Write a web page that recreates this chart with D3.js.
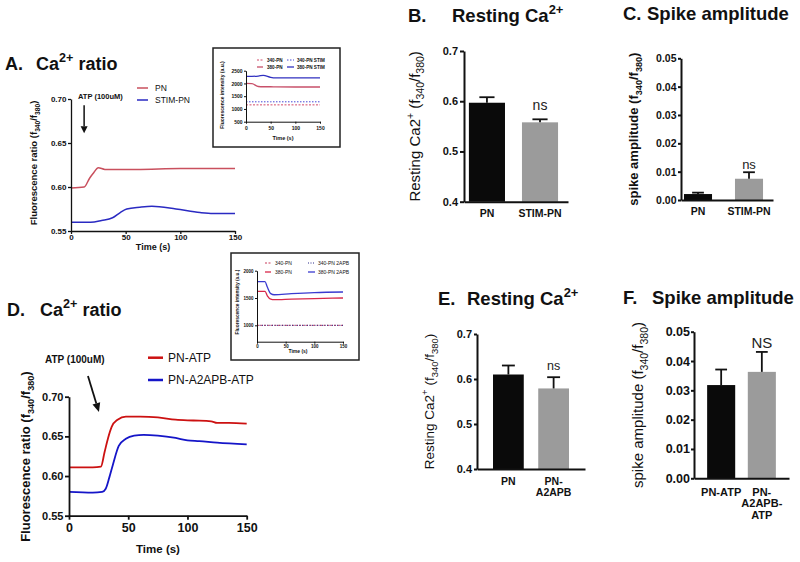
<!DOCTYPE html>
<html>
<head>
<meta charset="utf-8">
<script src="https://cdn.jsdelivr.net/npm/d3@7"></script>
<style>
  body { margin: 0; background: #fff; }
  svg { display: block; font-family: "Liberation Sans", Arial, sans-serif; }
</style>
</head>
<body>
<svg id="fig" width="800" height="562"></svg>
<script>
// ---------- data ----------
const timeTicks = [0, 50, 100, 150];

// A: Ca2+ ratio, PN vs STIM-PN
const timeA_PN = [0, 12, 17, 20, 25, 31, 60, 100, 150];
const ratioA_PN = [0.599, 0.600, 0.610, 0.615, 0.622, 0.620, 0.620, 0.621, 0.621];
const timeA_STIM = [0, 18, 28, 38, 45, 51, 63, 74, 96, 118, 130, 150];
const ratioA_STIM = [0.560, 0.560, 0.562, 0.565, 0.571, 0.575, 0.577, 0.578, 0.575, 0.571, 0.570, 0.570];

// A inset: raw intensities
const timeInsetA = [0, 12, 25, 35, 50, 60, 100, 150];
const insA_380STIM = [2280, 2280, 2290, 2320, 2240, 2220, 2220, 2220];
const insA_380PN = [2000, 1990, 1880, 1870, 1870, 1865, 1860, 1860];
const insA_340STIM = [1280, 1280, 1280, 1280, 1280, 1280, 1280, 1280];
const insA_340PN = [1160, 1160, 1160, 1160, 1160, 1160, 1160, 1160];

// D: Ca2+ ratio, PN-ATP vs PN-A2APB-ATP
const timeD_PN = [0, 20, 27, 30, 33, 36, 41, 48, 60, 75, 90, 105, 120, 125, 135, 150];
const ratioD_PN = [0.611, 0.611, 0.612, 0.630, 0.648, 0.662, 0.671, 0.675, 0.675, 0.674, 0.671, 0.670, 0.669, 0.667, 0.667, 0.666];
const timeD_2APB = [0, 20, 28, 31, 34, 37, 42, 48, 55, 63, 75, 90, 100, 110, 125, 150];
const ratioD_2APB = [0.580, 0.579, 0.580, 0.584, 0.598, 0.614, 0.638, 0.647, 0.651, 0.652, 0.651, 0.648, 0.645, 0.644, 0.642, 0.640];

// D inset
const timeInsetD = [0, 14, 18, 24, 30, 60, 100, 150];
const insD_380APB = [1800, 1800, 1700, 1580, 1560, 1580, 1600, 1610];
const insD_380PN = [1620, 1620, 1540, 1480, 1470, 1480, 1490, 1500];
const insD_340APB = [1000, 1000, 1000, 1000, 1000, 1000, 1000, 1000];
const insD_340PN = [1000, 1000, 1000, 1000, 1000, 1000, 1000, 1000];

// B, C, E, F: bar charts (mean + SEM)
const catsB = ['PN', 'STIM-PN'];
const restB = [0.597, 0.558];
const semB = [0.011, 0.006];
const labelsB = [['PN'], ['STIM-PN']];

const catsC = ['PN', 'STIM-PN'];
const spikeC = [0.0021, 0.0075];
const semC = [0.0005, 0.0023];
const labelsC = [['PN'], ['STIM-PN']];

const catsE = ['PN', 'PN-A2APB'];
const restE = [0.610, 0.579];
const semE = [0.020, 0.025];
const labelsE = [['PN'], ['PN-', 'A2APB']];

const catsF = ['PN-ATP', 'PN-A2APB-ATP'];
const spikeF = [0.0318, 0.0363];
const semF = [0.0053, 0.0068];
const labelsF = [['PN-ATP'], ['PN-', 'A2APB-', 'ATP']];

// ---------- drawing ----------
const svg = d3.select('#fig');
svg.append('rect').attr('width', 800).attr('height', 562).attr('fill', '#fff');
const ink = '#111';
const barColors = ['#0a0a0a', '#9b9b9b'];

// text with sub/superscript pieces
function rich(g, x, y, parts, o) {
  const t = g.append('text').attr('x', x).attr('y', y)
    .attr('font-size', o.size).attr('font-weight', o.weight || 'bold')
    .attr('text-anchor', o.anchor || 'start').attr('fill', ink);
  if (o.rotate) t.attr('transform', `rotate(-90,${x},${y})`);
  let cur = 0;
  parts.forEach(p => {
    const s = typeof p === 'string' ? p : p[0];
    const k = typeof p === 'string' ? '' : p[1];
    const off = k === 'sub' ? 0.3 * o.size : k === 'sup' ? -0.42 * o.size : 0;
    const ts = t.append('tspan').text(s).attr('dy', off - cur);
    if (k) ts.attr('font-size', o.size * 0.7);
    cur = off;
  });
  return t;
}

function styleAxis(a, size, stroke) {
  a.attr('font-family', null).attr('font-size', size).attr('font-weight', 'bold');
  a.select('.domain').attr('stroke', ink).attr('stroke-width', stroke);
  a.selectAll('.tick line').attr('stroke', ink).attr('stroke-width', stroke);
  a.selectAll('.tick text').attr('fill', ink);
}

function linePanel(o) {
  const g = svg.append('g');
  const x = d3.scaleLinear().domain([0, 150]).range([o.left, o.right]);
  const y = d3.scaleLinear().domain(o.yDomain).range([o.bottom, o.top]);
  const line = d3.line().x(d => x(d[0])).y(d => y(d[1])).curve(d3.curveMonotoneX);
  o.series.forEach(s => {
    g.append('path').datum(d3.zip(s.t, s.v)).attr('d', line)
      .attr('fill', 'none').attr('stroke', s.color).attr('stroke-width', s.width)
      .attr('stroke-dasharray', s.dash || null);
  });
  g.append('g').attr('transform', `translate(0,${o.bottom})`)
    .call(d3.axisBottom(x).tickValues(timeTicks).tickSize(o.tick).tickPadding(o.xPad).tickSizeOuter(0))
    .call(a => styleAxis(a, o.xFont, o.stroke));
  g.append('g').attr('transform', `translate(${o.left},0)`)
    .call(d3.axisLeft(y).tickValues(o.yTicks).tickFormat(d3.format(o.fmt))
      .tickSize(o.tick).tickPadding(o.yPad).tickSizeOuter(0))
    .call(a => styleAxis(a, o.yFont, o.stroke));
  return { g, x, y };
}

function arrow(g, x1, y1, x2, y2, len, half, w) {
  const a = Math.atan2(y2 - y1, x2 - x1);
  const bx = x2 - len * Math.cos(a), by = y2 - len * Math.sin(a);
  g.append('line').attr('x1', x1).attr('y1', y1).attr('x2', bx).attr('y2', by)
    .attr('stroke', ink).attr('stroke-width', w);
  const px = -Math.sin(a) * half, py = Math.cos(a) * half;
  g.append('path').attr('d', `M${x2},${y2}L${bx + px},${by + py}L${bx - px},${by - py}Z`).attr('fill', ink);
}

function legendRow(g, x1, x2, y, color, dash, width, text, tx, size, weight) {
  g.append('line').attr('x1', x1).attr('x2', x2).attr('y1', y).attr('y2', y)
    .attr('stroke', color).attr('stroke-width', width).attr('stroke-dasharray', dash || null);
  g.append('text').attr('x', tx).attr('y', y + size * 0.36).attr('font-size', size)
    .attr('font-weight', weight).attr('fill', ink).text(text);
}

function barPanel(o) {
  const g = svg.append('g');
  const x = d3.scaleBand().domain(o.cats).range([o.left, o.right])
    .paddingInner(o.pi).paddingOuter(o.po).align(o.align);
  const y = d3.scaleLinear().domain(o.yDomain).range([o.bottom, o.top]);
  const bw = x.bandwidth();
  g.selectAll('rect.bar').data(o.cats).join('rect').attr('class', 'bar')
    .attr('x', c => x(c)).attr('width', bw)
    .attr('y', (c, i) => y(o.means[i])).attr('height', (c, i) => o.bottom - y(o.means[i]))
    .attr('fill', (c, i) => barColors[i]);
  const cap = bw * 0.42;
  o.cats.forEach((c, i) => {
    const cx = x(c) + bw / 2;
    const top = y(o.means[i] + o.sems[i]);
    g.append('line').attr('x1', cx).attr('x2', cx).attr('y1', y(o.means[i])).attr('y2', top)
      .attr('stroke', ink).attr('stroke-width', 1.8);
    g.append('line').attr('x1', cx - cap / 2).attr('x2', cx + cap / 2).attr('y1', top).attr('y2', top)
      .attr('stroke', ink).attr('stroke-width', 1.8);
    o.lines[i].forEach((s, j) => {
      g.append('text').attr('x', cx).attr('y', o.labelY + j * o.lineH)
        .attr('text-anchor', 'middle').attr('font-size', o.labelFont)
        .attr('font-weight', 'bold').attr('fill', ink).text(s);
    });
  });
  g.append('g').attr('transform', `translate(0,${o.bottom})`)
    .call(d3.axisBottom(x).tickSize(0).tickSizeOuter(0).tickFormat(''))
    .call(a => styleAxis(a, 10, o.stroke));
  g.append('g').attr('transform', `translate(${o.left},0)`)
    .call(d3.axisLeft(y).tickValues(o.yTicks).tickFormat(d3.format(o.fmt))
      .tickSize(o.tick).tickPadding(o.yPad).tickSizeOuter(0))
    .call(a => styleAxis(a, o.yFont, o.stroke));
  const c1 = o.cats[1];
  g.append('text').attr('x', x(c1) + bw / 2)
    .attr('y', y(o.means[1] + o.sems[1]) - o.sigGap)
    .attr('text-anchor', 'middle').attr('font-size', o.sigFont).attr('fill', '#222').text(o.sig);
  rich(g, o.yLabelX, (o.top + o.bottom) / 2, o.yLabel,
    { size: o.yLabelSize, weight: o.yLabelWeight, anchor: 'middle', rotate: true });
  return g;
}

const ratioLabel = ['Fluorescence ratio (f', ['340', 'sub'], '/f', ['380', 'sub'], ')'];
const restLabel = ['Resting Ca2', ['+', 'sup'], ' (f', ['340', 'sub'], '/f', ['380', 'sub'], ')'];
const spikeLabel = ['spike amplitude (f', ['340', 'sub'], '/f', ['380', 'sub'], ')'];

function title(letter, lx, rest, rx, y, size) {
  svg.append('text').attr('x', lx).attr('y', y).attr('font-size', size)
    .attr('font-weight', 'bold').attr('fill', ink).text(letter);
  rich(svg, rx, y, rest, { size: size });
}

// ---- Panel A ----
title('A.', 5, ['Ca', ['2+', 'sup'], ' ratio'], 36, 70, 18);
const pA = linePanel({
  left: 71, right: 235, top: 99, bottom: 231, yDomain: [0.55, 0.70],
  yTicks: [0.55, 0.60, 0.65, 0.70], fmt: '.2f', tick: 3, xPad: 0.5, yPad: 1.5,
  xFont: 8, yFont: 8, stroke: 1.3,
  series: [
    { t: timeA_PN, v: ratioA_PN, color: '#c9505e', width: 1.5 },
    { t: timeA_STIM, v: ratioA_STIM, color: '#2a2ac2', width: 1.5 }
  ]
});
rich(svg, 37, 163, ratioLabel, { size: 9.5, anchor: 'middle', rotate: true });
svg.append('text').attr('x', 153).attr('y', 250).attr('text-anchor', 'middle')
  .attr('font-size', 9).attr('font-weight', 'bold').attr('fill', ink).text('Time (s)');
legendRow(svg, 137, 148, 88, '#c9505e', null, 1.5, 'PN', 155, 8.5, 'normal');
legendRow(svg, 137, 148, 100, '#2a2ac2', null, 1.5, 'STIM-PN', 155, 8.5, 'normal');
svg.append('text').attr('x', 78).attr('y', 99).attr('font-size', 7.5)
  .attr('font-weight', 'bold').attr('fill', ink).text('ATP (100uM)');
arrow(svg, pA.x(12), pA.y(0.693), pA.x(12), pA.y(0.661), 7, 3.5, 1.5);

// ---- Inset A ----
svg.append('rect').attr('x', 213).attr('y', 48).attr('width', 127).attr('height', 99)
  .attr('fill', '#fff').attr('stroke', '#222').attr('stroke-width', 1.5);
linePanel({
  left: 246, right: 320, top: 70.7, bottom: 121.7, yDomain: [500, 2500],
  yTicks: [500, 1000, 1500, 2000, 2500], fmt: 'd', tick: 2, xPad: 2.5, yPad: 1.5,
  xFont: 5, yFont: 5, stroke: 1,
  series: [
    { t: timeInsetA, v: insA_340PN, color: '#d24a6a', width: 1, dash: '2,1.5' },
    { t: timeInsetA, v: insA_340STIM, color: '#4848d8', width: 1, dash: '1.5,1.5' },
    { t: timeInsetA, v: insA_380PN, color: '#c8506a', width: 1.3 },
    { t: timeInsetA, v: insA_380STIM, color: '#3030c0', width: 1.3 }
  ]
});
rich(svg, 224, 95, ['Fluorescence intensity (a.u.)'], { size: 5, anchor: 'middle', rotate: true });
svg.append('text').attr('x', 283).attr('y', 140).attr('text-anchor', 'middle')
  .attr('font-size', 5.5).attr('font-weight', 'bold').attr('fill', ink).text('Time (s)');
legendRow(svg, 257, 263, 60, '#d24a6a', '2,1.5', 1, '340-PN', 267, 4.6, 'bold');
legendRow(svg, 257, 263, 67, '#c8506a', null, 1.3, '380-PN', 267, 4.6, 'bold');
legendRow(svg, 287, 294, 60, '#4848d8', '1.5,1.5', 1, '340-PN STIM', 297, 4.6, 'bold');
legendRow(svg, 287, 294, 67, '#3030c0', null, 1.3, '380-PN STIM', 297, 4.6, 'bold');

// ---- Panel B ----
title('B.', 408, ['Resting Ca', ['2+', 'sup']], 452, 22, 18.5);
barPanel({
  cats: catsB, means: restB, sems: semB, lines: labelsB, sig: 'ns',
  left: 464, right: 568, top: 51, bottom: 201.7, yDomain: [0.4, 0.7],
  yTicks: [0.4, 0.5, 0.6, 0.7], fmt: '.1f', pi: 0.32, po: 0.14, align: 0.33,
  tick: 4, yPad: 2, yFont: 11, stroke: 2, labelFont: 10.5, labelY: 217, lineH: 11,
  sigFont: 14, sigGap: 9, yLabel: restLabel, yLabelX: 420, yLabelSize: 15, yLabelWeight: 'normal'
});

// ---- Panel C ----
title('C.', 623, ['Spike amplitude'], 647, 20, 18.5);
barPanel({
  cats: catsC, means: spikeC, sems: semC, lines: labelsC, sig: 'ns',
  left: 681, right: 773, top: 58.3, bottom: 200, yDomain: [0, 0.05],
  yTicks: [0, 0.01, 0.02, 0.03, 0.04, 0.05], fmt: '.2f', pi: 0.45, po: 0.127, align: 0.23,
  tick: 3, yPad: 1.5, yFont: 10.5, stroke: 2, labelFont: 10.5, labelY: 215, lineH: 11,
  sigFont: 13, sigGap: 3, yLabel: spikeLabel, yLabelX: 638, yLabelSize: 13, yLabelWeight: 'bold'
});

// ---- Panel D ----
title('D.', 7, ['Ca', ['2+', 'sup'], ' ratio'], 40, 315.7, 18);
const pD = linePanel({
  left: 69, right: 246.7, top: 396.7, bottom: 515.7, yDomain: [0.55, 0.70],
  yTicks: [0.55, 0.60, 0.65, 0.70], fmt: '.2f', tick: 4, xPad: 3, yPad: 1.5,
  xFont: 12.5, yFont: 11, stroke: 1.8,
  series: [
    { t: timeD_PN, v: ratioD_PN, color: '#cc1111', width: 1.8 },
    { t: timeD_2APB, v: ratioD_2APB, color: '#1515c8', width: 1.8 }
  ]
});
rich(svg, 30, 456.6, ratioLabel, { size: 13, anchor: 'middle', rotate: true });
svg.append('text').attr('x', 158).attr('y', 553).attr('text-anchor', 'middle')
  .attr('font-size', 11.5).attr('font-weight', 'bold').attr('fill', ink).text('Time (s)');
legendRow(svg, 148, 163, 357.7, '#cc1111', null, 2.5, 'PN-ATP', 168, 12, 'normal');
legendRow(svg, 148, 163, 380, '#1515c8', null, 2.5, 'PN-A2APB-ATP', 168, 12, 'normal');
svg.append('text').attr('x', 45).attr('y', 363).attr('font-size', 10)
  .attr('font-weight', 'bold').attr('fill', ink).text('ATP (100uM)');
arrow(svg, pD.x(16), pD.y(0.726), pD.x(25.3), pD.y(0.6807), 9, 4, 1.8);

// ---- Inset D ----
svg.append('rect').attr('x', 231).attr('y', 253).attr('width', 128).attr('height', 107)
  .attr('fill', '#fff').attr('stroke', '#222').attr('stroke-width', 1.5);
linePanel({
  left: 257, right: 343, top: 270.7, bottom: 341.7, yDomain: [700, 2000],
  yTicks: [1000, 1500, 2000], fmt: 'd', tick: 2, xPad: 1, yPad: 1.5,
  xFont: 4.5, yFont: 4.5, stroke: 1,
  series: [
    { t: timeInsetD, v: insD_340PN, color: '#c83a5a', width: 1, dash: '2,1.5' },
    { t: timeInsetD, v: insD_340APB, color: '#2a2a8a', width: 1, dash: '1,1.5' },
    { t: timeInsetD, v: insD_380PN, color: '#d8284a', width: 1.3 },
    { t: timeInsetD, v: insD_380APB, color: '#3a3ad0', width: 1.3 }
  ]
});
rich(svg, 239, 302, ['Fluorescence intensity (a.u.)'], { size: 4.8, anchor: 'middle', rotate: true });
svg.append('text').attr('x', 298).attr('y', 353).attr('text-anchor', 'middle')
  .attr('font-size', 5).attr('font-weight', 'bold').attr('fill', ink).text('Time (s)');
legendRow(svg, 265, 271, 263, '#c83a5a', '2,1.5', 1, '340-PN', 275, 5, 'normal');
legendRow(svg, 265, 271, 272, '#d8284a', null, 1.3, '380-PN', 275, 5, 'normal');
legendRow(svg, 308, 315, 263, '#2a2a8a', '1,1.5', 1, '340-PN 2APB', 318, 5, 'normal');
legendRow(svg, 308, 315, 272, '#3a3ad0', null, 1.3, '380-PN 2APB', 318, 5, 'normal');

// ---- Panel E ----
title('E.', 438, ['Resting Ca', ['2+', 'sup']], 467, 305, 18.5);
barPanel({
  cats: catsE, means: restE, sems: semE, lines: labelsE, sig: 'ns',
  left: 477, right: 585, top: 334, bottom: 469, yDomain: [0.4, 0.7],
  yTicks: [0.4, 0.5, 0.6, 0.7], fmt: '.1f', pi: 0.32, po: 0.354, align: 0.5,
  tick: 3, yPad: 2, yFont: 11, stroke: 2, labelFont: 10.5, labelY: 485, lineH: 10.5,
  sigFont: 12.5, sigGap: 7, yLabel: restLabel, yLabelX: 434, yLabelSize: 13.5, yLabelWeight: 'normal'
});

// ---- Panel F ----
title('F.', 623, ['Spike amplitude'], 652, 304, 18.5);
barPanel({
  cats: catsF, means: spikeF, sems: semF, lines: labelsF, sig: 'NS',
  left: 694, right: 789, top: 331.7, bottom: 478.3, yDomain: [0, 0.05],
  yTicks: [0, 0.01, 0.02, 0.03, 0.04, 0.05], fmt: '.2f', pi: 0.31, po: 0.323, align: 0.5,
  tick: 3, yPad: 1, yFont: 12.5, stroke: 2, labelFont: 11, labelY: 495.5, lineH: 11.7,
  sigFont: 15, sigGap: 4, yLabel: spikeLabel, yLabelX: 643, yLabelSize: 15, yLabelWeight: 'normal'
});
</script>
</body>
</html>
